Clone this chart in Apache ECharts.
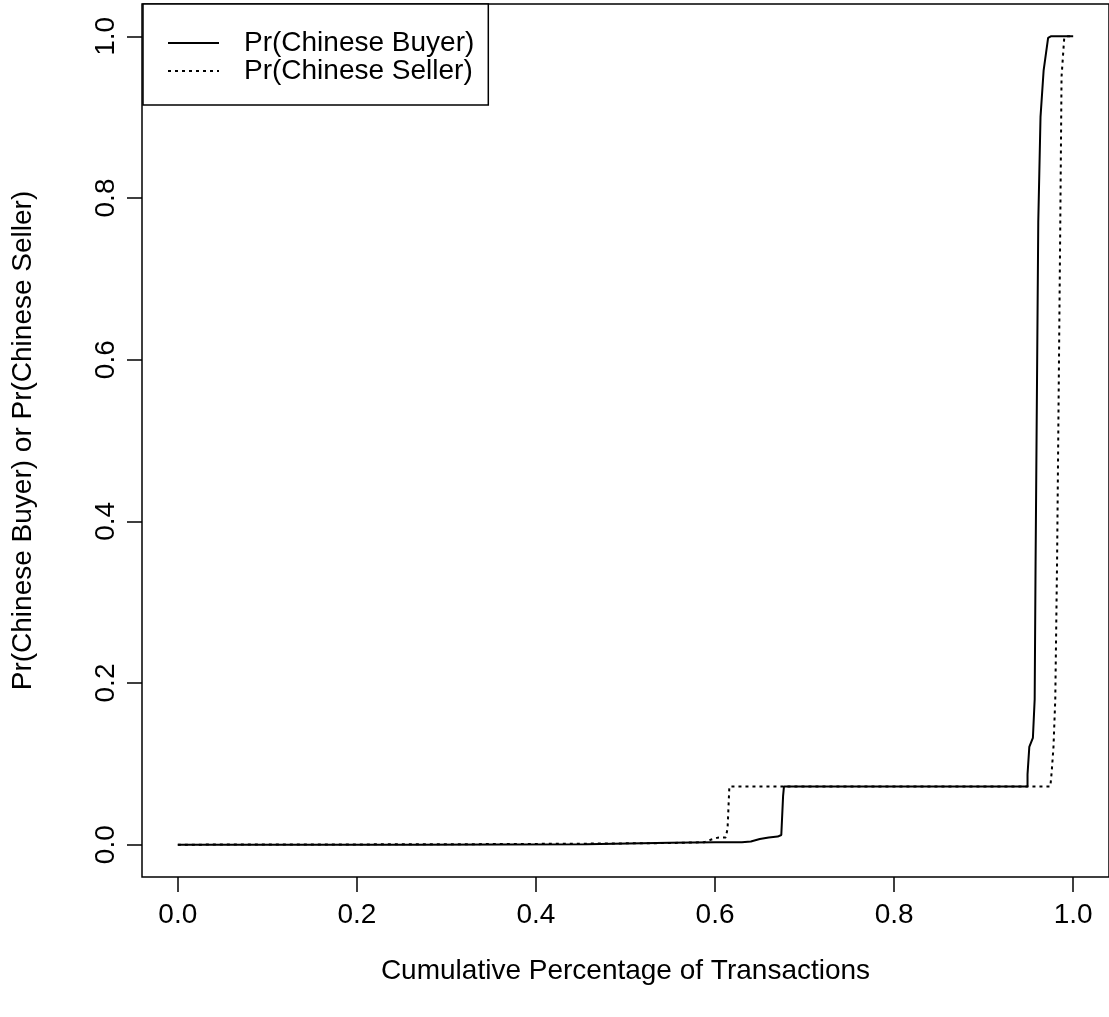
<!DOCTYPE html>
<html>
<head>
<meta charset="utf-8">
<script src="https://cdn.jsdelivr.net/npm/echarts@6/dist/echarts.min.js"></script>
<style>
html,body{margin:0;padding:0;background:#fff;}
#chart{width:1109px;height:1017px;}
</style>
</head>
<body>
<div id="chart"></div>
<script>
// ---- data ----
var tickValues = [0, 0.2, 0.4, 0.6, 0.8, 1.0];
var buyerX = [0, 0.265, 0.265, 0.456, 0.456, 0.55, 0.60, 0.63, 0.64, 0.65, 0.66, 0.67, 0.674, 0.676, 0.677, 0.949, 0.949, 0.951, 0.955, 0.957, 0.958, 0.961, 0.9635, 0.967, 0.972, 0.975, 1.0];
var buyerY = [0, 0, 0.0006, 0.0006, 0.0015, 0.0025, 0.003, 0.003, 0.004, 0.007, 0.009, 0.010, 0.012, 0.06, 0.072, 0.072, 0.087, 0.121, 0.132, 0.18, 0.35, 0.77, 0.90, 0.958, 0.998, 1.0, 1.0];
var sellerX = [0, 0.30, 0.45, 0.55, 0.588, 0.595, 0.603, 0.612, 0.614, 0.616, 0.9745, 0.976, 0.978, 0.980, 0.982, 0.9856, 0.987, 0.990, 0.993, 1.0];
var sellerY = [0, 0.0005, 0.0012, 0.002, 0.003, 0.006, 0.0087, 0.009, 0.02, 0.072, 0.072, 0.09, 0.121, 0.18, 0.35, 0.77, 0.95, 0.998, 1.0, 1.0];
var seriesNames = ['Pr(Chinese Buyer)', 'Pr(Chinese Seller)'];
var xTitle = 'Cumulative Percentage of Transactions';
var yTitle = 'Pr(Chinese Buyer) or Pr(Chinese Seller)';

function pairs(xs, ys) { return xs.map(function (x, i) { return [x, ys[i]]; }); }

var FONT = 'Liberation Sans, Arial, Helvetica, sans-serif';
var chart = echarts.init(document.getElementById('chart'), null, {renderer: 'canvas'});
chart.setOption({
  backgroundColor: '#ffffff',
  animation: false,
  textStyle: {fontFamily: FONT},
  grid: {left: 142, top: 4, width: 976, height: 873, show: true, borderColor: '#000', borderWidth: 1.5, backgroundColor: 'transparent'},
  legend: {
    show: true,
    orient: 'vertical', left: 143, top: 4,
    backgroundColor: '#fff', borderColor: '#000', borderWidth: 1.5,
    padding: [25, 14, 20, 24],
    itemWidth: 51, itemHeight: 28, itemGap: 0,
    itemStyle: {opacity: 0},
    textStyle: {fontFamily: FONT, fontSize: 28, color: '#000', padding: [0, 0, 0, 20]},
    data: seriesNames
  },
  xAxis: {
    type: 'value', min: -0.04, max: 1.04,
    splitLine: {show: false},
    axisLine: {show: false, onZero: false},
    axisTick: {show: true, inside: false, length: 15, customValues: tickValues, lineStyle: {color: '#000', width: 1.5}},
    axisLabel: {customValues: tickValues, margin: 24, fontSize: 28, color: '#000', fontFamily: FONT,
      formatter: function (v) { return v.toFixed(1); }},
    name: xTitle, nameLocation: 'middle', nameGap: 80,
    nameTextStyle: {fontSize: 28, color: '#000', fontFamily: FONT}
  },
  yAxis: {
    type: 'value', min: -0.04, max: 1.04,
    splitLine: {show: false},
    axisLine: {show: false, onZero: false},
    axisTick: {show: true, inside: false, length: 15, customValues: tickValues, lineStyle: {color: '#000', width: 1.5}},
    axisLabel: {customValues: tickValues, margin: 22, rotate: 90, fontSize: 28, color: '#000', fontFamily: FONT,
      formatter: function (v) { return v.toFixed(1); }},
    name: yTitle, nameLocation: 'middle', nameGap: 105, nameRotate: 90,
    nameTextStyle: {fontSize: 28, color: '#000', fontFamily: FONT}
  },
  series: [
    {name: seriesNames[0], type: 'line', data: pairs(buyerX, buyerY), showSymbol: false, symbol: 'none',
      lineStyle: {color: '#000', width: 2, type: 'solid'}, itemStyle: {color: '#000'}, z: 3},
    {name: seriesNames[1], type: 'line', data: pairs(sellerX, sellerY), showSymbol: false, symbol: 'none',
      lineStyle: {color: '#000', width: 2, type: [3, 4]}, itemStyle: {color: '#000'}, z: 2}
  ]
});
</script>
</body>
</html>
